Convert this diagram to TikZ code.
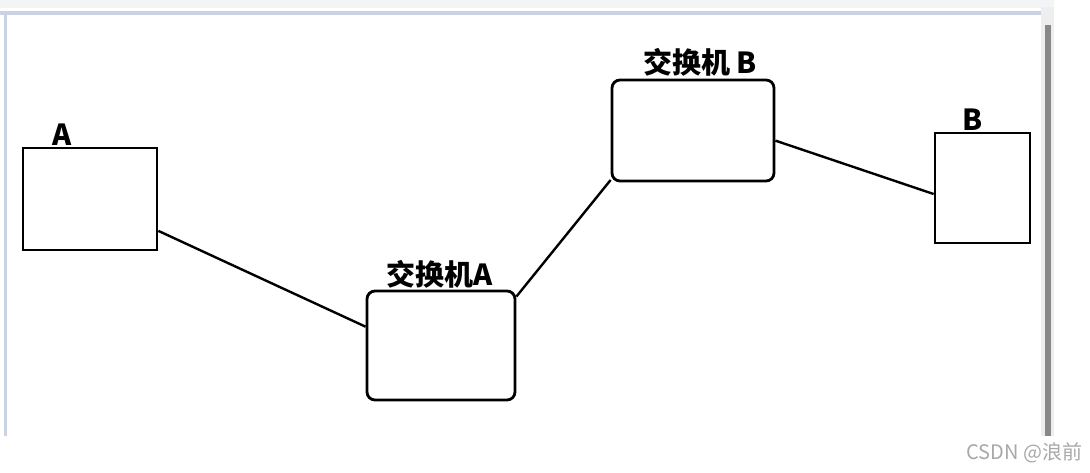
\documentclass[tikz,border=0pt]{standalone}
\usepackage{fontspec}
\newfontfamily\cjk{Noto Sans CJK SC}
\usetikzlibrary{positioning,calc}

\definecolor{framebar}{HTML}{C9D3E3}
\definecolor{toolbar}{HTML}{F3F4F6}
\definecolor{scrolltrack}{HTML}{EEEEEE}
\definecolor{scrollthumb}{HTML}{888888}
\definecolor{markgray}{HTML}{A8A8A8}

\begin{document}
\begin{tikzpicture}[
    x=1pt, y=-1pt,
    host/.style={draw, line width=2.8pt, inner sep=0pt},
    switch/.style={draw, line width=2.8pt, rounded corners=8pt, inner sep=0pt},
    tag/.style={font=\cjk\bfseries\fontsize{29}{32}\selectfont, inner sep=0pt},
    link/.style={line width=2.4pt},
]
\useasboundingbox (0,0) rectangle (1090,472);

% window frame
\fill[toolbar] (0,0) rectangle (1054,8);
\fill[framebar] (0,11) rectangle (1041,15);
\fill[framebar] (4,11) rectangle (7,436);
\fill[scrolltrack] (1041,7) rectangle (1054,436);
\fill[scrollthumb] (1045,25) rectangle (1051,436);

% devices
\node[host, minimum width=134pt, minimum height=102pt] (hostA) at (90,199) {};
\node[switch, minimum width=148pt, minimum height=109pt] (swA) at (441,345.5) {};
\node[switch, minimum width=162pt, minimum height=101pt] (swB) at (693,130.5) {};
\node[host, minimum width=95pt, minimum height=110pt] (hostB) at (982.5,188) {};

% labels
\node[tag] (tagA) at (62,135) {A};
\node[tag] (tagSwA) at (440,274) {交换机A};
\node[tag] (tagSwB) at (700,62) {交换机 B};
\node[tag] (tagB) at (973,120) {B};

% links
\draw[link] (hostA.-25) -- (swA.166);
\draw[link] (swA.33) -- (swB.-149);
\draw[link] (swB.-7) -- (hostB.187);

\node[font=\cjk\fontsize{20}{22}\selectfont, text=markgray, anchor=east] (mark) at (1086,453) {CSDN @浪前};
\end{tikzpicture}
\end{document}
